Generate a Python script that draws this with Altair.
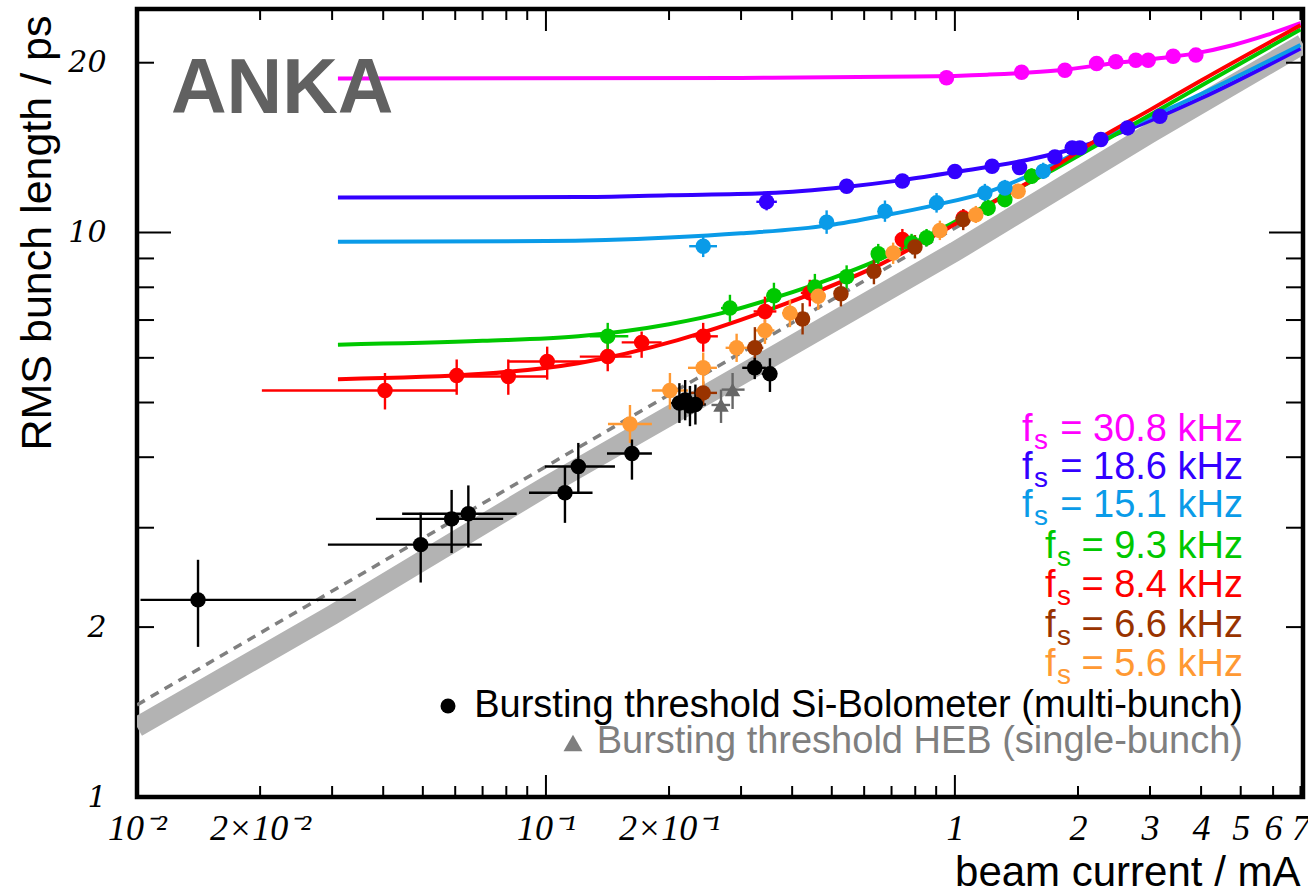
import altair as alt
import pandas as pd

# ---------------------------------------------------------------------------
# Plot geometry and axis ranges
# ---------------------------------------------------------------------------
W, H = 1166, 788
X_DOMAIN = [0.01, 7.1]      # beam current / mA
Y_DOMAIN = [1.0, 24.9]      # RMS bunch length / ps

SANS = "Liberation Sans, Arial, Helvetica, sans-serif"

# ---------------------------------------------------------------------------
# Fitted bunch-length curves, one per synchrotron frequency f_s
# ---------------------------------------------------------------------------
fit_308_x = [0.031, 0.3, 0.8, 1.2, 1.8, 2.5, 3.4, 3.9, 4.8, 5.8, 7.0]
fit_308_y = [18.75, 18.8, 18.9, 19.05, 19.4, 20.0, 20.5, 20.8, 21.5, 22.4, 23.5]

fit_186_x = [0.031, 0.12, 0.2, 0.35, 0.54, 0.75, 1.0, 1.5, 2.0, 2.7, 4.0, 7.0]
fit_186_y = [11.54, 11.56, 11.65, 11.75, 12.05, 12.4, 12.8, 13.45, 14.15, 15.3, 17.3, 21.2]

fit_151_x = [0.031, 0.1, 0.2, 0.3, 0.49, 0.67, 0.9, 1.2, 1.7, 2.3, 4.0, 7.0]
fit_151_y = [9.63, 9.66, 9.8, 9.97, 10.3, 10.72, 11.2, 11.8, 13.1, 14.65, 17.6, 21.5]

fit_93_x = [0.031, 0.07, 0.12, 0.2, 0.28, 0.37, 0.5, 0.65, 1.0, 1.3, 1.7, 2.5, 4.0, 7.0]
fit_93_y = [6.33, 6.43, 6.55, 6.88, 7.25, 7.7, 8.3, 8.95, 10.45, 11.55, 12.8, 15.0, 18.2, 22.9]

fit_84_x = [0.031, 0.07, 0.12, 0.21, 0.37, 0.65, 1.0, 1.29, 1.7, 2.26, 3.0, 4.0, 7.0]
fit_84_y = [5.50, 5.62, 5.87, 6.45, 7.4, 8.75, 10.35, 11.5, 12.9, 14.7, 16.5, 18.6, 23.3]

# Bursting-threshold scaling band and its dashed companion
band_x = [0.01, 0.03, 0.1, 0.3, 1.0, 3.0, 7.1]
band_y = [1.33, 2.1, 3.55, 5.6, 9.25, 15.0, 21.6]
dash_x = [0.01, 1.05]
dash_y = [1.456, 10.4]

# ---------------------------------------------------------------------------
# Measured points with error bars
# ---------------------------------------------------------------------------
m308_x = [0.954, 1.456, 1.858, 2.221, 2.475, 2.770, 2.970, 3.418, 3.884]
m308_y = [18.81, 19.24, 19.40, 19.94, 20.08, 20.21, 20.21, 20.54, 20.63]
m308_xlo = m308_x
m308_xhi = m308_x
m308_ylo = [18.35, 18.77, 18.93, 19.45, 19.6, 19.72, 19.72, 20.04, 20.13]
m308_yhi = [19.28, 19.72, 19.88, 20.44, 20.58, 20.71, 20.71, 21.05, 21.15]

m186_x = [0.3464, 0.5436, 0.744, 1.0, 1.233, 1.439, 1.756, 1.936, 2.021, 2.275, 2.644, 3.171]
m186_y = [11.34, 12.08, 12.34, 12.83, 13.11, 13.04, 13.62, 14.13, 14.13, 14.62, 15.33, 16.08]
m186_xlo = [0.327, 0.535, 0.735, 0.99, 1.22, 1.42, 1.74, 1.92, 2.0, 2.25, 2.62, 3.14]
m186_xhi = [0.367, 0.553, 0.753, 1.01, 1.245, 1.455, 1.77, 1.95, 2.04, 2.3, 2.67, 3.2]
m186_ylo = [10.95, 11.75, 12.0, 12.5, 12.8, 12.7, 13.3, 13.8, 13.8, 14.3, 15.0, 15.75]
m186_yhi = [11.75, 12.45, 12.7, 13.2, 13.45, 13.4, 13.95, 14.5, 14.5, 14.95, 15.7, 16.45]

m151_x = [0.2424, 0.4857, 0.6745, 0.902, 1.184, 1.325, 1.644]
m151_y = [9.46, 10.43, 10.91, 11.29, 11.76, 12.0, 12.85]
m151_xlo = [0.224, 0.475, 0.66, 0.885, 1.17, 1.30, 1.62]
m151_xhi = [0.262, 0.497, 0.69, 0.92, 1.20, 1.35, 1.67]
m151_ylo = [9.05, 9.95, 10.45, 10.85, 11.35, 11.6, 12.45]
m151_yhi = [9.9, 10.95, 11.4, 11.75, 12.2, 12.4, 13.3]

m93_x = [0.1416, 0.2818, 0.361, 0.4546, 0.5436, 0.6495, 0.7837, 0.8526, 1.206, 1.325, 1.54]
m93_y = [6.55, 7.35, 7.73, 8.01, 8.35, 9.17, 9.59, 9.79, 11.06, 11.44, 12.59]
m93_xlo = [0.128, 0.268, 0.346, 0.437, 0.525, 0.63, 0.765, 0.835, 1.18, 1.30, 1.51]
m93_xhi = [0.159, 0.296, 0.377, 0.473, 0.563, 0.67, 0.803, 0.87, 1.23, 1.35, 1.57]
m93_ylo = [6.15, 6.95, 7.3, 7.6, 7.95, 8.8, 9.25, 9.45, 10.7, 11.1, 12.2]
m93_yhi = [6.92, 7.76, 8.15, 8.45, 8.75, 9.55, 9.95, 10.15, 11.45, 11.8, 13.0]

m84_x = [0.0404, 0.0605, 0.0809, 0.1007, 0.1416, 0.1714, 0.2424, 0.3432, 0.4418, 0.744, 1.048]
m84_y = [5.25, 5.58, 5.56, 5.91, 6.03, 6.39, 6.55, 7.25, 7.82, 9.72, 10.62]
m84_xlo = [0.0202, 0.0585, 0.0605, 0.0809, 0.121, 0.1532, 0.2288, 0.322, 0.42, 0.72, 1.02]
m84_xhi = [0.0605, 0.0626, 0.1007, 0.128, 0.162, 0.1918, 0.2633, 0.366, 0.46, 0.77, 1.08]
m84_ylo = [4.86, 5.16, 5.16, 5.49, 5.68, 6.0, 6.15, 6.82, 7.4, 9.3, 10.2]
m84_yhi = [5.64, 5.96, 5.96, 6.28, 6.46, 6.68, 6.92, 7.7, 8.25, 10.15, 11.0]

m66_x = [0.2424, 0.3243, 0.4242, 0.5264, 0.6339, 0.7986, 1.048]
m66_y = [5.20, 6.25, 7.03, 7.79, 8.54, 9.43, 10.55]
m66_xlo = [0.225, 0.31, 0.41, 0.51, 0.62, 0.78, 1.02]
m66_xhi = [0.262, 0.34, 0.44, 0.545, 0.65, 0.82, 1.08]
m66_ylo = [4.95, 5.75, 6.6, 7.4, 8.1, 9.0, 10.1]
m66_yhi = [5.45, 6.8, 7.5, 8.2, 9.0, 9.9, 11.0]

m56_x = [0.1605, 0.2010, 0.2424, 0.2926, 0.3432, 0.395, 0.4633, 0.7064, 0.919, 1.125, 1.428]
m56_y = [4.58, 5.25, 5.76, 6.25, 6.71, 7.20, 7.71, 9.20, 10.09, 10.76, 11.84]
m56_xlo = [0.1418, 0.1816, 0.2225, 0.275, 0.325, 0.378, 0.445, 0.69, 0.90, 1.10, 1.40]
m56_xhi = [0.1816, 0.2225, 0.2619, 0.311, 0.362, 0.413, 0.482, 0.723, 0.94, 1.15, 1.46]
m56_ylo = [4.24, 4.86, 5.33, 5.9, 6.35, 6.8, 7.3, 8.8, 9.7, 10.4, 11.5]
m56_yhi = [4.95, 5.64, 6.13, 6.62, 7.1, 7.6, 8.15, 9.6, 10.5, 11.15, 12.2]

# Bursting threshold, Si-Bolometer (multi-bunch)
si_x = [0.0141, 0.0494, 0.0588, 0.0646, 0.1113, 0.120, 0.1623, 0.212, 0.219, 0.225, 0.232, 0.324, 0.353]
si_y = [2.235, 2.80, 3.11, 3.175, 3.46, 3.85, 4.06, 4.99, 5.05, 4.93, 4.96, 5.76, 5.62]
si_xlo = [0.0102, 0.0293, 0.0384, 0.0445, 0.0909, 0.0994, 0.141, 0.200, 0.206, 0.212, 0.219, 0.302, 0.337]
si_xhi = [0.0343, 0.0697, 0.0786, 0.0848, 0.130, 0.1475, 0.1816, 0.225, 0.232, 0.238, 0.246, 0.345, 0.367]
si_ylo = [1.845, 2.399, 2.705, 2.767, 3.06, 3.47, 3.65, 4.60, 4.65, 4.54, 4.57, 5.50, 5.22]
si_yhi = [2.632, 3.19, 3.50, 3.565, 3.85, 4.24, 4.30, 5.41, 5.48, 5.35, 5.38, 6.00, 5.99]

# Bursting threshold, HEB (single-bunch)
heb_x = [0.268, 0.286]
heb_y = [4.95, 5.27]
heb_xlo = [0.254, 0.269]
heb_xhi = [0.282, 0.306]
heb_ylo = [4.60, 4.87]
heb_yhi = [5.27, 5.64]

# ---------------------------------------------------------------------------
# Series styling and legend text
# ---------------------------------------------------------------------------
series_names = ["30.8", "18.6", "15.1", "9.3", "8.4", "6.6", "5.6", "si", "heb"]
series_colors = ["#ff00ff", "#3300ff", "#0a9be8", "#00c800", "#ff0000",
                 "#993300", "#ff9933", "#000000", "#666666"]
series_shapes = ["circle"] * 8 + ["triangle-up"]
series_sizes = [240] * 7 + [210, 400]

legend_freqs = ["30.8", "18.6", "15.1", "9.3", "8.4", "6.6", "5.6"]
legend_texts = ["= 30.8 kHz", "= 18.6 kHz", "= 15.1 kHz", "= 9.3 kHz",
                "= 8.4 kHz", "= 6.6 kHz", "= 5.6 kHz"]
legend_si = "Bursting threshold Si-Bolometer (multi-bunch)"
legend_heb = "Bursting threshold HEB (single-bunch)"

# Axis tick positions and labels
x_label_values = [0.01, 0.02, 0.1, 0.2, 1, 2, 3, 4, 5, 6, 7]
x_label_texts = ["10⁻²", "2×10⁻²", "10⁻¹", "2×10⁻¹", "1", "2", "3", "4", "5", "6", "7"]
y_label_values = [1, 2, 10, 20]
x_major_ticks = [0.1, 1.0]
x_minor_ticks = [0.02, 0.03, 0.04, 0.05, 0.06, 0.07, 0.08, 0.09,
                 0.2, 0.3, 0.4, 0.5, 0.6, 0.7, 0.8, 0.9,
                 2, 3, 4, 5, 6, 7]
y_major_ticks = [10.0]
y_minor_ticks = [2, 3, 4, 5, 6, 7, 8, 9, 20]

# ---------------------------------------------------------------------------
# Tables
# ---------------------------------------------------------------------------
fits = [("30.8", fit_308_x, fit_308_y), ("18.6", fit_186_x, fit_186_y),
        ("15.1", fit_151_x, fit_151_y), ("9.3", fit_93_x, fit_93_y),
        ("8.4", fit_84_x, fit_84_y)]
fit_df = pd.concat([pd.DataFrame({"series": s, "x": fx, "y": fy, "order": range(len(fx))})
                    for s, fx, fy in fits], ignore_index=True)

meas = [
    ("8.4", m84_x, m84_y, m84_xlo, m84_xhi, m84_ylo, m84_yhi),
    ("9.3", m93_x, m93_y, m93_xlo, m93_xhi, m93_ylo, m93_yhi),
    ("6.6", m66_x, m66_y, m66_xlo, m66_xhi, m66_ylo, m66_yhi),
    ("5.6", m56_x, m56_y, m56_xlo, m56_xhi, m56_ylo, m56_yhi),
    ("15.1", m151_x, m151_y, m151_xlo, m151_xhi, m151_ylo, m151_yhi),
    ("18.6", m186_x, m186_y, m186_xlo, m186_xhi, m186_ylo, m186_yhi),
    ("30.8", m308_x, m308_y, m308_xlo, m308_xhi, m308_ylo, m308_yhi),
    ("heb", heb_x, heb_y, heb_xlo, heb_xhi, heb_ylo, heb_yhi),
    ("si", si_x, si_y, si_xlo, si_xhi, si_ylo, si_yhi),
]
meas_df = pd.concat([pd.DataFrame({"series": s, "x": mx, "y": my, "xlo": xl, "xhi": xh,
                                   "ylo": yl, "yhi": yh})
                     for s, mx, my, xl, xh, yl, yh in meas], ignore_index=True)
meas_df["order"] = range(len(meas_df))

band_df = pd.DataFrame({"x": band_x, "y": band_y})
dash_df = pd.DataFrame({"x": dash_x, "y": dash_y})

# ---------------------------------------------------------------------------
# Scales and axes
# ---------------------------------------------------------------------------
xs = alt.Scale(type="log", domain=X_DOMAIN, nice=False)
ys = alt.Scale(type="log", domain=Y_DOMAIN, nice=False)

label_expr = "".join(
    f"abs(datum.value - {v}) < 1e-9 ? '{t}' : " for v, t in zip(x_label_values, x_label_texts)
) + "''"

x_axis = alt.Axis(
    title="beam current / mA", values=x_label_values, labelExpr=label_expr,
    grid=False, ticks=False, tickSize=0, domain=False,
    labelFont="Liberation Serif, Times New Roman, serif", labelFontStyle="italic",
    labelFontSize=36, labelColor="black", labelPadding=42, labelBaseline="alphabetic",
    labelFlush=False, labelOverlap=False,
    titleFont=SANS, titleFontSize=42, titleFontWeight="normal", titleColor="black",
    titleX=1163, titleY=88, titleAlign="right", titleBaseline="alphabetic", titleAnchor="end",
)
y_axis = alt.Axis(
    title="RMS bunch length / ps", values=y_label_values, format="d",
    grid=False, ticks=False, tickSize=0, domain=False,
    labelFont="DejaVu Serif, serif", labelFontStyle="italic", labelFontSize=30,
    labelColor="black", labelPadding=31, labelAlign="right", labelBaseline="middle",
    labelFlush=False, labelOverlap=False,
    titleFont=SANS, titleFontSize=43, titleFontWeight="normal", titleColor="black",
    titleAngle=270, titleX=-87, titleY=6, titleAlign="right", titleBaseline="alphabetic",
)

X = lambda f: alt.X(f, scale=xs, axis=x_axis)
Y = lambda f: alt.Y(f, scale=ys, axis=y_axis)
color = alt.Color("series:N", scale=alt.Scale(domain=series_names, range=series_colors),
                  legend=None)

# ---------------------------------------------------------------------------
# Layers
# ---------------------------------------------------------------------------
band = alt.Chart(band_df).mark_line(color="#b3b3b3", strokeWidth=20, clip=True,
                                    strokeCap="butt").encode(x=X("x:Q"), y=Y("y:Q"))

dashed = alt.Chart(dash_df).mark_line(color="#808080", strokeWidth=3.5,
                                      strokeDash=[9, 7], clip=True).encode(
    x=X("x:Q"), y=Y("y:Q"))

fit_lines = alt.Chart(fit_df).mark_line(strokeWidth=4, interpolate="monotone",
                                        clip=True).encode(
    x=X("x:Q"), y=Y("y:Q"), color=color, detail="series:N", order="order:Q")

xbars = alt.Chart(meas_df).mark_rule(strokeWidth=2.4).encode(
    x=X("xlo:Q"), x2="xhi:Q", y=Y("y:Q"), color=color)
ybars = alt.Chart(meas_df).mark_rule(strokeWidth=2.4).encode(
    x=X("x:Q"), y=Y("ylo:Q"), y2="yhi:Q", color=color)

points = alt.Chart(meas_df).mark_point(filled=True, opacity=1, strokeWidth=0).encode(
    x=X("x:Q"), y=Y("y:Q"), color=color, order="order:Q",
    size=alt.Size("series:N", scale=alt.Scale(domain=series_names, range=series_sizes),
                  legend=None),
    shape=alt.Shape("series:N", scale=alt.Scale(domain=series_names, range=series_shapes),
                    legend=None))

# Inside tick marks on all four sides
def tick_layer(vals, axis, side, length):
    df = pd.DataFrame({"v": vals})
    base = alt.Chart(df).mark_rule(color="black", strokeWidth=2)
    if axis == "x":
        if side == "bottom":
            return base.encode(x=X("v:Q"), y=alt.value(H), y2=alt.value(H - length))
        return base.encode(x=X("v:Q"), y=alt.value(0), y2=alt.value(length))
    if side == "left":
        return base.encode(y=Y("v:Q"), x=alt.value(0), x2=alt.value(length))
    return base.encode(y=Y("v:Q"), x=alt.value(W), x2=alt.value(W - length))

ticks = [
    tick_layer(x_major_ticks, "x", "bottom", 22), tick_layer(x_minor_ticks, "x", "bottom", 11),
    tick_layer(x_major_ticks, "x", "top", 22), tick_layer(x_minor_ticks, "x", "top", 11),
    tick_layer(y_major_ticks, "y", "left", 34), tick_layer(y_minor_ticks, "y", "left", 17),
    tick_layer(y_major_ticks, "y", "right", 34), tick_layer(y_minor_ticks, "y", "right", 17),
]

def label(text, px, py, size, col, align="left", weight="normal", font=SANS):
    return alt.Chart(alt.Data(values=[{"t": text}])).mark_text(
        font=font, fontSize=size, fontWeight=weight, color=col, align=align,
        baseline="alphabetic").encode(text="t:N", x=alt.value(px), y=alt.value(py))

texts = [label("ANKA", 34, 104, 77, "#616161", weight="bold")]

legend_rows_y = [432, 470, 508, 549, 588, 628, 667]
legend_f_x = [885, 885, 885, 908, 908, 908, 908]
for freq, txt, ry, fx in zip(legend_freqs, legend_texts, legend_rows_y, legend_f_x):
    c = series_colors[series_names.index(freq)]
    texts.append(label("f", fx, ry, 38, c))
    texts.append(label("s", fx + 12, ry + 8, 28, c))
    texts.append(label(txt, 1106, ry, 38, c, align="right"))

texts.append(label(legend_si, 1106, 708, 38, "black", align="right"))
texts.append(label(legend_heb, 1106, 744, 38, "#7f7f7f", align="right"))

legend_tri = alt.Chart(alt.Data(values=[{}])).mark_point(
    filled=True, opacity=1, size=360, strokeWidth=0, shape="triangle-up",
    color="#7f7f7f").encode(x=alt.value(436), y=alt.value(734))
legend_dot = alt.Chart(alt.Data(values=[{}])).mark_point(
    filled=True, opacity=1, size=225, strokeWidth=0, shape="circle",
    color="black").encode(x=alt.value(311), y=alt.value(697))

chart = alt.layer(
    band, dashed, fit_lines, xbars, ybars, points, *ticks, *texts, legend_dot, legend_tri
).properties(
    width=W, height=H,
    padding={"left": 137, "top": 9, "right": 5, "bottom": 97},
    autosize=alt.AutoSizeParams(type="none"),
    background="white",
).configure_view(stroke="black", strokeWidth=4.5)

chart.save("out.html", embed_options={"renderer": "svg", "actions": False})
